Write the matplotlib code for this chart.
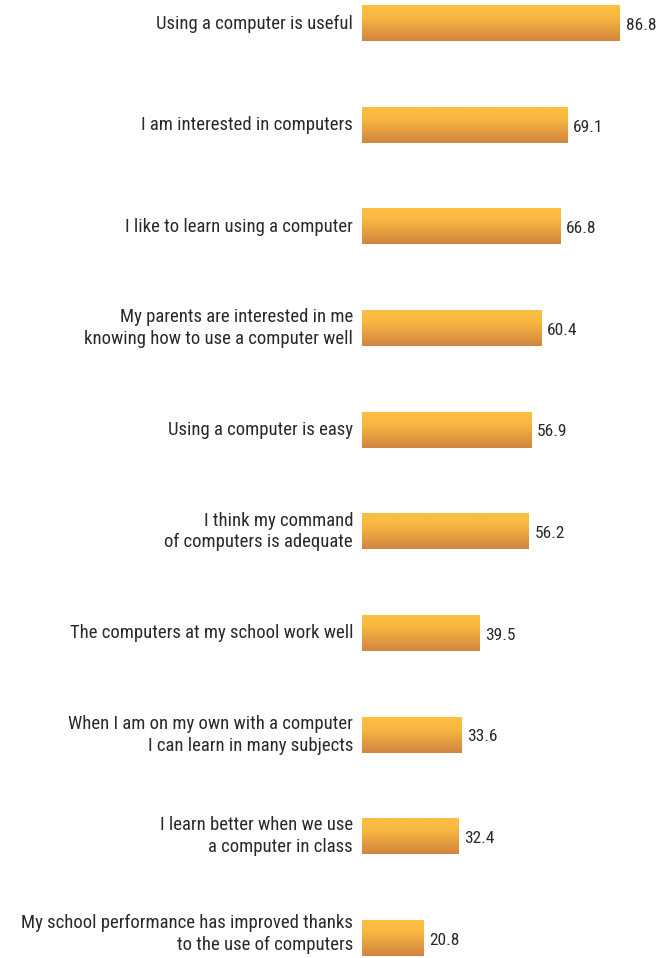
import matplotlib
matplotlib.use("Agg")
import matplotlib.pyplot as plt
import numpy as np
from matplotlib import font_manager
from matplotlib import transforms
from matplotlib.colors import LinearSegmentedColormap

statements = [
    "Using a computer is useful",
    "I am interested in computers",
    "I like to learn using a computer",
    "My parents are interested in me\nknowing how to use a computer well",
    "Using a computer is easy",
    "I think my command\nof computers is adequate",
    "The computers at my school work well",
    "When I am on my own with a computer\nI can learn in many subjects",
    "I learn better when we use\na computer in class",
    "My school performance has improved thanks\nto the use of computers",
]
shares = [86.8, 69.1, 66.8, 60.4, 56.9, 56.2, 39.5, 33.6, 32.4, 20.8]

# pick a narrow sans if one is around, otherwise fall back
names = {f.name for f in font_manager.fontManager.ttflist}
family = "Liberation Sans"
stretch = "normal"
for cand in ["Roboto Condensed", "Liberation Sans Narrow", "Open Sans Condensed",
             "DejaVu Sans Condensed"]:
    if cand in names:
        family = cand
        break
else:
    if any(f.name == "DejaVu Sans" and f.stretch == "condensed"
           for f in font_manager.fontManager.ttflist):
        family, stretch = "DejaVu Sans", "condensed"

txt_color = "#2d2926"
fsize = 13.5

bar_cmap = LinearSegmentedColormap.from_list(
    "bar", [(0.0, "#fbbf41"), (0.3, "#f9b941"), (1.0, "#d2853f")])
grad = np.linspace(0, 1, 64).reshape(-1, 1)

fig = plt.figure(figsize=(6.6, 9.58), dpi=100)
ax = fig.add_axes([362 / 660, 0, 1 - 362 / 660, 1])

ypos = np.arange(len(shares))
h = 0.35
bars = ax.barh(ypos, shares, height=h, color="none")
for b in bars:
    x0, y0 = b.get_x(), b.get_y()
    ax.imshow(grad, cmap=bar_cmap, aspect="auto", interpolation="bicubic",
              extent=(x0, x0 + b.get_width(), y0 + h, y0), zorder=2)

for y, v in zip(ypos, shares):
    ax.text(v + 1.9, y + 0.02, f"{v:.1f}", va="center", ha="left",
            fontsize=12.5, color=txt_color, family=family, stretch=stretch)

# statement labels sit just left of the bars
lab_tr = transforms.blended_transform_factory(ax.transAxes, ax.transData)
lab_tr = lab_tr + transforms.ScaledTranslation(-9 / 100, 0, fig.dpi_scale_trans)
for y, s in zip(ypos, statements):
    yy = y - 0.04 if y == ypos[-1] else y
    ax.text(0, yy, s, transform=lab_tr, ha="right", va="center",
            fontsize=fsize, color=txt_color, family=family, stretch=stretch,
            linespacing=1.27)

ax.set_xlim(0, 100.3)
ax.set_ylim(9.197, -0.231)
ax.set_xticks([])
ax.set_yticks([])
for s in ax.spines.values():
    s.set_visible(False)

fig.savefig("out.png", dpi=100)
